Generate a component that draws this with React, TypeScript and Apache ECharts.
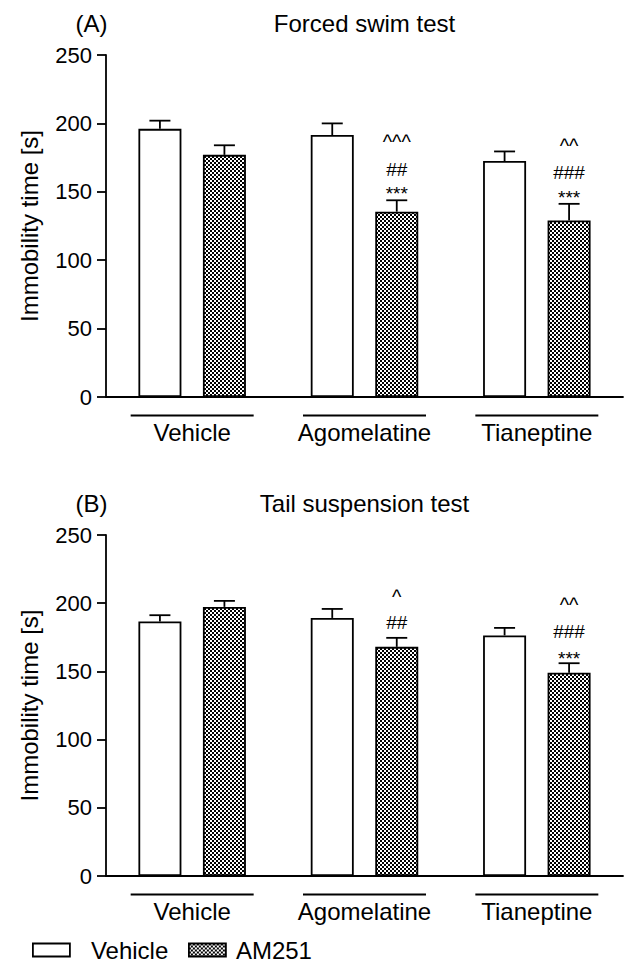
import React, { useEffect, useRef } from 'react';
import * as echarts from 'echarts';

// ---------- data ----------
const groups = ['Vehicle', 'Agomelatine', 'Tianeptine'];
const seriesNames = ['Vehicle', 'AM251'];

// (A) Forced swim test
const fstVehicleMean = [196, 191.5, 172.5];
const fstVehicleSem = [6, 8.5, 7];
const fstAm251Mean = [177, 135.5, 129];
const fstAm251Sem = [7, 8.3, 12.2];

// (B) Tail suspension test
const tstVehicleMean = [186.6, 189.2, 176.4];
const tstVehicleSem = [4.6, 6.6, 5.5];
const tstAm251Mean = [197.3, 168, 149];
const tstAm251Sem = [4.4, 6.6, 7];

// significance marks above AM251 bars (group index, text, value level)
const fstSigGroup = [1, 1, 1, 2, 2, 2];
const fstSigText = ['***', '##', '^^^', '***', '###', '^^'];
const fstSigAt = [148.9, 166.5, 186.2, 145.9, 164.1, 183.7];
const tstSigGroup = [1, 1, 2, 2, 2];
const tstSigText = ['##', '^', '***', '###', '^^'];
const tstSigAt = [185.7, 204.8, 159.5, 179.6, 198.5];

const yMin = 0;
const yMax = 250;
const yStep = 50;

const panelTitles = ['Forced swim test', 'Tail suspension test'];
const panelLetters = ['(A)', '(B)'];
const yName = 'Immobility time [s]';

// ---------- layout ----------
const FONT = 'Liberation Sans, Arial, Helvetica, sans-serif';
const LW = 1.8;
const BAR_W = 43;
const BAR_GAP = 0.5;
const BAR_OFFSET = (BAR_W * (1 + BAR_GAP)) / 2;
const CAP = 10.5;
const GRID_LEFT = 106;
const GRID_W = 517;
const GRIDS = [
  { top: 55, height: 342 },
  { top: 535, height: 341 },
];

function makeChecker() {
  const c = document.createElement('canvas');
  c.width = 4;
  c.height = 4;
  const ctx = c.getContext('2d')!;
  ctx.fillStyle = '#ffffff';
  ctx.fillRect(0, 0, 4, 4);
  ctx.fillStyle = '#000000';
  ctx.fillRect(0, 0, 2, 2);
  ctx.fillRect(2, 2, 2, 2);
  return c;
}

function errSeries(axis: number, means: number[], sems: number[], side: number) {
  return {
    type: 'custom',
    xAxisIndex: axis,
    yAxisIndex: axis,
    z: 5,
    silent: true,
    data: means.map((m, i) => [i, m, sems[i]]),
    renderItem: (_p: any, api: any) => {
      const i = api.value(0);
      const m = api.value(1);
      const e = api.value(2);
      const base = api.coord([i, m]);
      const top = api.coord([i, m + e]);
      const x = base[0] + side * BAR_OFFSET;
      const style = { stroke: '#000', lineWidth: LW };
      return {
        type: 'group',
        children: [
          { type: 'line', shape: { x1: x, y1: base[1], x2: x, y2: top[1] }, style },
          { type: 'line', shape: { x1: x - CAP, y1: top[1], x2: x + CAP, y2: top[1] }, style },
        ],
      };
    },
  };
}

function underlineSeries(axis: number) {
  return {
    type: 'custom',
    xAxisIndex: axis,
    yAxisIndex: axis,
    z: 5,
    silent: true,
    data: groups.map((_g, i) => [i, 0]),
    renderItem: (_p: any, api: any) => {
      const p = api.coord([api.value(0), 0]);
      return {
        type: 'line',
        shape: { x1: p[0] - 61.5, y1: p[1] + 18.5, x2: p[0] + 61.5, y2: p[1] + 18.5 },
        style: { stroke: '#000', lineWidth: LW },
      };
    },
  };
}

function sigSeries(axis: number, grp: number[], txt: string[], at: number[]) {
  return {
    type: 'custom',
    xAxisIndex: axis,
    yAxisIndex: axis,
    z: 6,
    silent: true,
    data: grp.map((g, k) => [g, at[k], k]),
    renderItem: (_p: any, api: any) => {
      const p = api.coord([api.value(0), api.value(1)]);
      const k = api.value(2);
      const isCaret = txt[k].charAt(0) === '^';
      return {
        type: 'text',
        x: p[0] + BAR_OFFSET,
        y: p[1],
        style: {
          text: txt[k],
          fontSize: isCaret ? 20 : 19,
          fontFamily: FONT,
          fill: '#000',
          align: 'center',
          verticalAlign: 'middle',
          textAlign: 'center',
          textVerticalAlign: 'middle',
        },
      };
    },
  };
}

export default function App() {
  const ref = useRef<HTMLDivElement>(null);

  useEffect(() => {
    if (!ref.current) return;
    const chart = echarts.init(ref.current, undefined, { renderer: 'svg' });
    const checker = makeChecker();
    const checkerFill: any = { image: checker, repeat: 'repeat', imageWidth: 4, imageHeight: 4 };

    const grid = GRIDS.map((g) => ({ left: GRID_LEFT, width: GRID_W, top: g.top, height: g.height }));

    const xAxis = GRIDS.map((_g, i) => ({
      type: 'category',
      gridIndex: i,
      data: groups,
      axisLine: { lineStyle: { color: '#000', width: LW } },
      axisTick: { alignWithLabel: true, length: 10, lineStyle: { color: '#000', width: LW } },
      axisLabel: { interval: 0, fontSize: 24, color: '#000', fontFamily: FONT, margin: 23, hideOverlap: false },
      splitLine: { show: false },
    }));

    const yAxis = GRIDS.map((_g, i) => ({
      type: 'value',
      gridIndex: i,
      min: yMin,
      max: yMax,
      interval: yStep,
      name: yName,
      nameLocation: 'middle',
      nameGap: 65,
      nameTextStyle: { fontSize: 24, color: '#000', fontFamily: FONT },
      axisLine: { show: true, lineStyle: { color: '#000', width: LW } },
      axisTick: { show: true, length: 9, lineStyle: { color: '#000', width: LW } },
      axisLabel: { fontSize: 22, color: '#000', fontFamily: FONT, margin: 14 },
      splitLine: { show: false },
    }));

    const barStyle = (fill: any) => ({ color: fill, borderColor: '#000', borderWidth: LW });

    const panels = [
      { vm: fstVehicleMean, vs: fstVehicleSem, am: fstAm251Mean, as: fstAm251Sem, sg: fstSigGroup, st: fstSigText, sa: fstSigAt },
      { vm: tstVehicleMean, vs: tstVehicleSem, am: tstAm251Mean, as: tstAm251Sem, sg: tstSigGroup, st: tstSigText, sa: tstSigAt },
    ];

    const series: any[] = [];
    panels.forEach((p, i) => {
      series.push({
        name: seriesNames[0],
        type: 'bar',
        xAxisIndex: i,
        yAxisIndex: i,
        data: p.vm,
        barWidth: BAR_W,
        barGap: `${BAR_GAP * 100}%`,
        itemStyle: barStyle('#ffffff'),
        silent: true,
      });
      series.push({
        name: seriesNames[1],
        type: 'bar',
        xAxisIndex: i,
        yAxisIndex: i,
        data: p.am,
        barWidth: BAR_W,
        barGap: `${BAR_GAP * 100}%`,
        itemStyle: barStyle(checkerFill),
        silent: true,
      });
      series.push(errSeries(i, p.vm, p.vs, -1));
      series.push(errSeries(i, p.am, p.as, 1));
      series.push(underlineSeries(i));
      series.push(sigSeries(i, p.sg, p.st, p.sa));
    });

    const graphic: any[] = [];
    GRIDS.forEach((g, i) => {
      const cy = g.top - 31.5;
      graphic.push({
        type: 'text',
        x: GRID_LEFT + GRID_W / 2,
        y: cy,
        style: { text: panelTitles[i], font: `24px ${FONT}`, fill: '#000', align: 'center', verticalAlign: 'middle', textAlign: 'center', textVerticalAlign: 'middle' },
      });
      graphic.push({
        type: 'text',
        x: 91.5,
        y: cy,
        style: { text: panelLetters[i], font: `24px ${FONT}`, fill: '#000', align: 'center', verticalAlign: 'middle', textAlign: 'center', textVerticalAlign: 'middle' },
      });
    });

    chart.setOption({
      animation: false,
      backgroundColor: '#ffffff',
      textStyle: { fontFamily: FONT, color: '#000' },
      grid,
      xAxis,
      yAxis,
      series,
      graphic,
      legend: [
        {
          data: [seriesNames[0]],
          left: 32,
          top: 938,
          padding: 0,
          icon: 'rect',
          itemWidth: 37,
          itemHeight: 13,
          selectedMode: false,
          itemStyle: { color: '#ffffff', borderColor: '#000', borderWidth: LW },
          textStyle: { fontSize: 24, color: '#000', fontFamily: FONT, padding: [0, 0, 0, 16] },
        },
        {
          data: [seriesNames[1]],
          left: 188,
          top: 938,
          padding: 0,
          icon: 'rect',
          itemWidth: 37,
          itemHeight: 13,
          selectedMode: false,
          itemStyle: { color: checkerFill, borderColor: '#000', borderWidth: LW },
          textStyle: { fontSize: 24, color: '#000', fontFamily: FONT, padding: [0, 0, 0, 5] },
        },
      ],
    });
    return () => chart.dispose();
  }, []);

  return (
    <div
      ref={ref}
      style={{ position: 'absolute', left: 0, top: 0, width: 626, height: 962, background: '#fff' }}
    />
  );
}
